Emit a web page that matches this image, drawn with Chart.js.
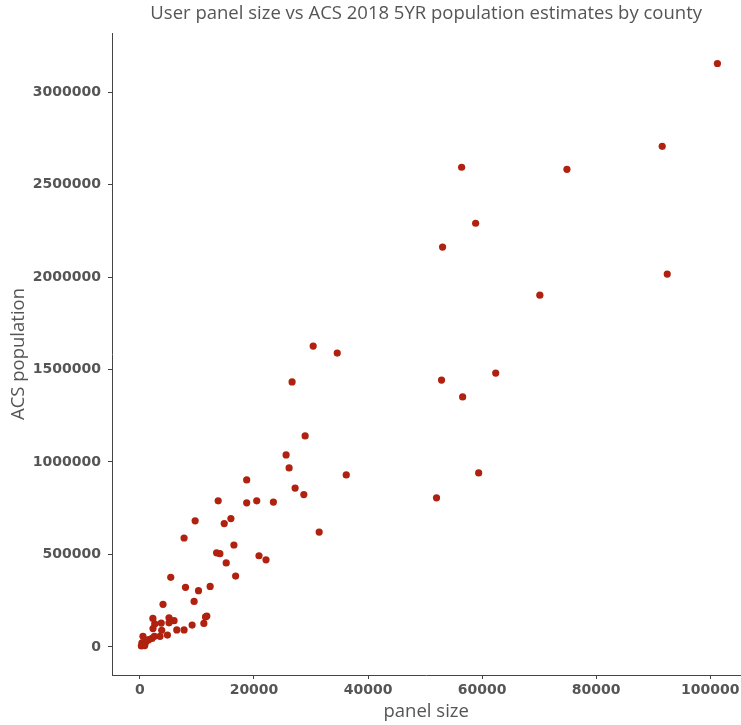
<!DOCTYPE html>
<html>
<head>
<meta charset="utf-8">
<title>panel size vs ACS population</title>
<script src="https://cdn.jsdelivr.net/npm/chart.js@4.4.1/dist/chart.umd.min.js"></script>
<style>
  body { margin: 0; background: #fff; overflow: hidden; }
  canvas { display: block; }
</style>
</head>
<body>
<canvas id="scatter" width="744" height="725"></canvas>
<script>
// one entry per county: users in the panel and ACS 2018 5yr population
let panelSize = [
    101270, 91590, 92470, 74880, 56410, 58870, 53070, 70130, 62390, 52890,
    56590, 59400, 52010, 30380, 34600, 26680, 28970, 25630, 26160, 36180,
    27210, 28740, 31430, 18720, 18720, 20480, 23400, 13720, 9680, 14780,
    15950, 7740, 16480, 13440, 14020, 15130, 20880, 22110, 5400, 16780,
    7990, 12310, 10270, 9500, 4050, 11730, 11500, 11210, 9150, 7740,
    6460, 5100, 5980, 5100, 3730, 2270, 2590, 2290, 3820, 4820,
    3520, 2530, 2110, 1530, 1130, 530, 350, 830, 250, 830
];
let acsPopulation = [
    3155000, 2707000, 2016000, 2583000, 2594000, 2291000, 2162000, 1902000, 1481000, 1443000,
    1352000, 941000, 806000, 1627000, 1589000, 1433000, 1141000, 1038000, 968000, 930000,
    859000, 824000, 621000, 903000, 779000, 790000, 783000, 790000, 682000, 667000,
    694000, 589000, 551000, 509000, 504000, 454000, 493000, 471000, 376000, 383000,
    322000, 327000, 304000, 246000, 230000, 167000, 162000, 127000, 118000, 92000,
    92000, 157000, 142000, 130000, 129000, 154000, 124000, 99000, 90000, 64000,
    57000, 57000, 46000, 39000, 30000, 57000, 22000, 12000, 5000, 7000
];
let xTicks = [0, 20000, 40000, 60000, 80000, 100000];
let yTicks = [0, 500000, 1000000, 1500000, 2000000, 2500000, 3000000];

let points = [];
for (let i = 0; i < panelSize.length; i++) {
    points.push({ x: panelSize[i], y: acsPopulation[i] });
}

let textGrey = '#555555';
let tickFont = { family: 'DejaVu Sans', size: 14, weight: 'bold' };
let labelFont = { family: 'Open Sans', size: 18.5, weight: 'normal' };

// center the title over the plot area instead of the whole canvas
let titleOverPlot = {
    id: 'titleOverPlot',
    afterLayout: function (c) {
        if (c.titleBlock) {
            c.titleBlock.left = c.chartArea.left;
            c.titleBlock.right = c.chartArea.right;
        }
    }
};

let chart = document.getElementById('scatter').getContext('2d');
let mychart = new Chart(chart, {
    type: 'scatter',
    data: {
        datasets: [{
            label: 'counties',
            data: points,
            backgroundColor: '#b0210f',
            borderColor: '#b0210f',
            borderWidth: 0,
            pointRadius: 3.6,
            pointHoverRadius: 3.6
        }]
    },
    plugins: [titleOverPlot],
    options: {
        responsive: false,
        animation: false,
        devicePixelRatio: 1,
        layout: { padding: { left: 0, right: 0, top: 0, bottom: 0 } },
        plugins: {
            legend: { display: false },
            tooltip: { enabled: false },
            title: {
                display: true,
                text: 'User panel size vs ACS 2018 5YR population estimates by county',
                color: textGrey,
                font: labelFont,
                padding: { top: 3, bottom: 7.8 }
            }
        },
        scales: {
            x: {
                type: 'linear',
                min: -4900,
                max: 105300,
                afterBuildTicks: function (scale) {
                    scale.ticks = xTicks.map(v => ({ value: v }));
                },
                afterFit: function (scale) {
                    scale.height = 50;
                },
                grid: { display: true, drawOnChartArea: false, drawTicks: true, tickLength: 4, color: '#444444' },
                border: { display: true, color: '#444444', width: 1 },
                ticks: {
                    color: textGrey,
                    font: tickFont,
                    padding: 3,
                    maxRotation: 0,
                    callback: function (v) { return String(v); }
                },
                title: {
                    display: true,
                    text: 'panel size',
                    color: textGrey,
                    font: labelFont,
                    padding: { top: 0, bottom: 1.9 }
                }
            },
            y: {
                type: 'linear',
                min: -152000,
                max: 3320000,
                afterBuildTicks: function (scale) {
                    scale.ticks = yTicks.map(v => ({ value: v }));
                },
                afterFit: function (scale) {
                    scale.width = 112;
                },
                grid: { display: true, drawOnChartArea: false, drawTicks: true, tickLength: 4, color: '#444444' },
                border: { display: true, color: '#444444', width: 1 },
                ticks: {
                    color: textGrey,
                    font: tickFont,
                    padding: 7,
                    callback: function (v) { return String(v); }
                },
                title: {
                    display: true,
                    text: 'ACS population',
                    color: textGrey,
                    font: labelFont,
                    padding: { top: 7.9, bottom: 0 }
                }
            }
        }
    }
});
</script>
</body>
</html>
